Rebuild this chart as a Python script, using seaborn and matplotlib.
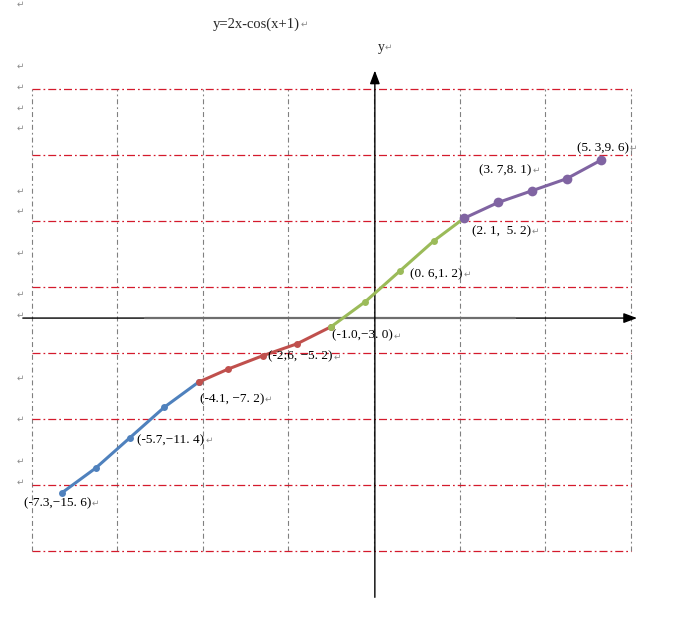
import numpy as np
import pandas as pd
import seaborn as sns
import matplotlib
matplotlib.use('Agg')
import matplotlib.pyplot as plt

# points, four coloured pieces of y = 2x - cos(x+1)
blue_x = [-7.3, -6.5, -5.7, -4.9, -4.1]
blue_y = [-15.6, -13.7, -11.4, -9.1, -7.2]
red_x = [-4.1, -3.4, -2.6, -1.8, -1.0]
red_y = [-7.2, -6.2, -5.2, -4.3, -3.0]
green_x = [-1.0, -0.2, 0.6, 1.4, 2.1]
green_y = [-3.0, -1.1, 1.2, 3.5, 5.2]
purple_x = [2.1, 2.9, 3.7, 4.5, 5.3]
purple_y = [5.2, 6.4, 7.3, 8.2, 9.6]

grid_x = [-8, -6, -4, -2, 0, 2, 4, 6]
grid_y = [-20, -15, -10, -5, 0, 5, 10, 15]

# (segment, point index, text, offset in pixels)
point_labels = [
    (0, 0, '(-7.3,\u221215. 6)', (-38, -10)),
    (0, 2, '(-5.7,\u221211. 4)', (7, -3)),
    (1, 0, '(-4.1, \u22127. 2)', (1, -17)),
    (1, 2, '(-2;6, \u22125. 2)', (5, -1)),
    (2, 0, '(-1.0,\u22123. 0)', (1, -9)),
    (2, 2, '(0. 6,1. 2)', (10, -3)),
    (3, 0, '(2. 1,  5. 2)', (8, -13)),
    (3, 2, '(3. 7,8. 1)', (-53, 20)),
    (3, 4, '(5. 3,9. 6)', (-24, 12)),
]

sns.set_style('white')
plt.rcParams['font.family'] = ['Liberation Serif', 'DejaVu Sans']

fig = plt.figure(figsize=(6.9, 6.24), dpi=100)
ax = fig.add_axes([0, 0, 1, 1])
ax.set_xlim(-8.738, 7.383)
ax.set_ylim(-25.51, 21.73)
ax.axis('off')

# dash-dot grid box
for gx in grid_x:
    ax.plot([gx, gx], [grid_y[0], grid_y[-1]], color='#808080', lw=0.8,
            ls=(0, (4.5, 2.7, 1.6, 2.7)), zorder=1)
for gy in grid_y:
    ax.plot([grid_x[0], grid_x[-1]], [gy, gy], color='#d41a2c', lw=0.9,
            ls=(0, (6.4, 2.4, 1.4, 2.4)), zorder=1)

# hand drawn axes with arrows
ax.annotate('', xy=(6.21, -2.35), xytext=(-8.27, -2.35),
            arrowprops=dict(arrowstyle='-|>,head_length=0.8,head_width=0.3', color='black', lw=1.0), zorder=2)
ax.plot([-5.35, 3.29], [-2.35, -2.35], color='#6e6e6e', lw=1.6, zorder=2)
ax.annotate('', xy=(0.02, 16.6), xytext=(0.02, -23.7),
            arrowprops=dict(arrowstyle='-|>,head_length=0.8,head_width=0.3', color='black', lw=1.0), zorder=2)

segments = [
    (blue_x, blue_y, '#4f81bd', 5),
    (red_x, red_y, '#c0504d', 5),
    (green_x, green_y, '#9bbb59', 5),
    (purple_x, purple_y, '#8064a2', 7),
]
for xs, ys, col, ms in segments:
    df = pd.DataFrame({'x': xs, 'y': ys})
    sns.lineplot(data=df, x='x', y='y', color=col, lw=2.2, marker='o', markersize=ms,
                 markeredgecolor=col, markeredgewidth=0, estimator=None, ax=ax, zorder=3)

ret = '\u21b5'
for seg, idx, txt, off in point_labels:
    xs, ys = segments[seg][0], segments[seg][1]
    t = ax.annotate(txt, xy=(xs[idx], ys[idx]), xytext=off, textcoords='offset pixels',
                    ha='left', va='center', fontsize=9.5, color='black', zorder=4)
    ax.annotate(ret, xy=(1, 0.5), xycoords=t, xytext=(1, 0), textcoords='offset pixels',
                ha='left', va='center', fontsize=6.5, color='#8a8a8a', family='DejaVu Sans')

W, H = 690, 624
t = fig.text(213 / W, 1 - 24 / H, 'y=2x-cos(x+1)', ha='left', va='center', fontsize=10.5)
ax.annotate(ret, xy=(1, 0.5), xycoords=t, xytext=(1, 0), textcoords='offset pixels',
            ha='left', va='center', fontsize=6.5, color='#8a8a8a', family='DejaVu Sans')
ty = fig.text(378 / W, 1 - 47 / H, 'y', ha='left', va='center', fontsize=10)
ax.annotate(ret, xy=(1, 0.5), xycoords=ty, xytext=(0, 0), textcoords='offset pixels',
            ha='left', va='center', fontsize=6.5, color='#8a8a8a', family='DejaVu Sans')

# paragraph marks down the left margin
for py in [4, 66, 87, 108, 128, 191, 211, 253, 294, 315, 378, 419, 461, 482]:
    fig.text(20 / W, 1 - py / H, ret, ha='center', va='center', fontsize=6.5,
             color='#8a8a8a', family='DejaVu Sans')

fig.savefig('out.png', dpi=100)
